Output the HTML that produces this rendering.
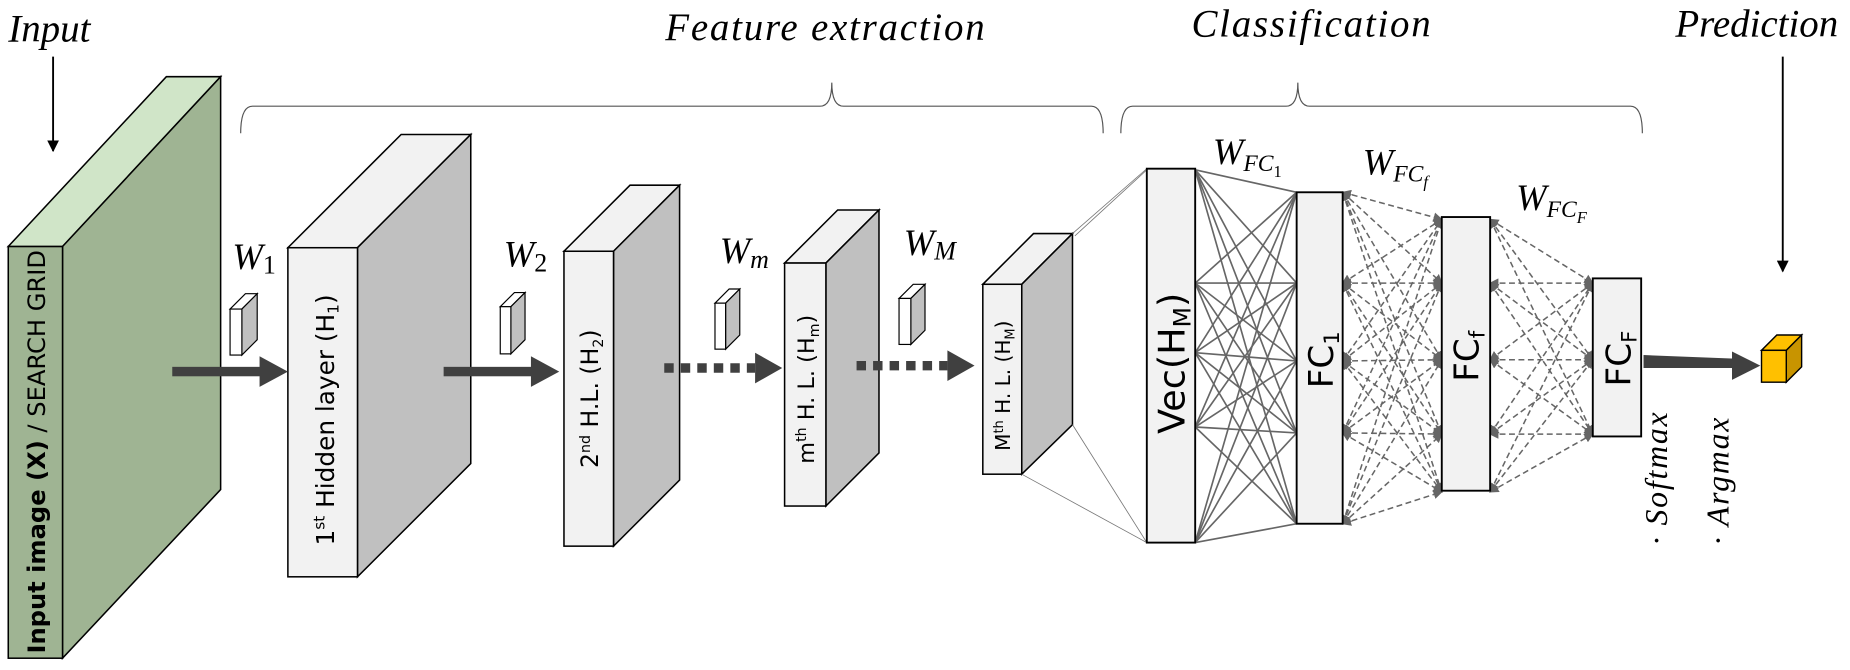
<!DOCTYPE html>
<html><head><meta charset="utf-8"><style>
html,body{margin:0;padding:0;background:#fff;}
svg{display:block;}
.it{font-family:"Liberation Serif",serif;font-style:italic;}
.sn{font-family:"DejaVu Sans","Liberation Sans",sans-serif;}
</style></head><body>
<svg width="1850" height="670" viewBox="0 0 1568 568" preserveAspectRatio="none" xmlns="http://www.w3.org/2000/svg">
<defs>
<marker id="ah" markerWidth="8" markerHeight="8" refX="7" refY="4" orient="auto-start-reverse" markerUnits="userSpaceOnUse"><path d="M0,0 L8,4 L0,8 z" fill="#666"/></marker>
<marker id="ab" markerWidth="10" markerHeight="10" refX="9" refY="5" orient="auto" markerUnits="userSpaceOnUse"><path d="M0,0 L10,5 L0,10 z" fill="#000"/></marker>
</defs>

<!-- titles -->
<text x="7" y="35" class="it" font-size="33">Input</text>
<text x="700" y="34" class="it" font-size="33" text-anchor="middle" letter-spacing="1.5">Feature extraction</text>
<text x="1112" y="31" class="it" font-size="33" text-anchor="middle" letter-spacing="1.5">Classification</text>
<text x="1489" y="31" class="it" font-size="33" text-anchor="middle">Prediction</text>
<line x1="45" y1="48" x2="45" y2="128" stroke="#000" stroke-width="1.6" marker-end="url(#ab)"/>
<line x1="1511" y1="48" x2="1511" y2="230" stroke="#000" stroke-width="1.6" marker-end="url(#ab)"/>

<!-- braces -->
<path d="M204,113 Q204,90 214,90 L695,90 Q705,90 705,70 Q705,90 715,90 L925,90 Q935,90 935,113" fill="none" stroke="#555" stroke-width="1"/>
<path d="M950,113 Q950,90 960,90 L1090,90 Q1100,90 1100,70 Q1100,90 1110,90 L1382,90 Q1392,90 1392,113" fill="none" stroke="#555" stroke-width="1"/>

<!-- input slab -->
<polygon points="7,209 53,209 187,65 141,65" fill="#d0e5c8" stroke="#000" stroke-width="1.3"/>
<polygon points="53,209 187,65 187,415 53,558" fill="#9fb493" stroke="#000" stroke-width="1.3"/>
<rect x="7" y="209" width="46" height="349" fill="#9fb493" stroke="#000" stroke-width="1.3"/>
<text transform="translate(38,383) rotate(-90)" text-anchor="middle" class="sn" font-size="20.5"><tspan font-weight="bold">Input image (X)</tspan> / SEARCH GRID</text>

<!-- H1 -->
<polygon points="244,210 303,210 399,114 340,114" fill="#f2f2f2" stroke="#000" stroke-width="1.3"/>
<polygon points="303,210 399,114 399,393 303,489" fill="#c0c0c0" stroke="#000" stroke-width="1.3"/>
<rect x="244" y="210" width="59" height="279" fill="#f2f2f2" stroke="#000" stroke-width="1.3"/>
<text transform="translate(283,356) rotate(-90)" text-anchor="middle" class="sn" font-size="21">1<tspan font-size="13" dy="-8">st</tspan><tspan dy="8"> Hidden layer (H</tspan><tspan font-size="13" dy="4">1</tspan><tspan dy="-4">)</tspan></text>

<!-- H2 -->
<polygon points="478,213 520,213 576,157 534,157" fill="#f2f2f2" stroke="#000" stroke-width="1.3"/>
<polygon points="520,213 576,157 576,407 520,463" fill="#c0c0c0" stroke="#000" stroke-width="1.3"/>
<rect x="478" y="213" width="42" height="250" fill="#f2f2f2" stroke="#000" stroke-width="1.3"/>
<text transform="translate(507,338) rotate(-90)" text-anchor="middle" class="sn" font-size="20">2<tspan font-size="12" dy="-7">nd</tspan><tspan dy="7"> H.L. (H</tspan><tspan font-size="12" dy="4">2</tspan><tspan dy="-4">)</tspan></text>

<!-- Hm -->
<polygon points="665,223 700,223 745,178 710,178" fill="#f2f2f2" stroke="#000" stroke-width="1.3"/>
<polygon points="700,223 745,178 745,384 700,429" fill="#c0c0c0" stroke="#000" stroke-width="1.3"/>
<rect x="665" y="223" width="35" height="206" fill="#f2f2f2" stroke="#000" stroke-width="1.3"/>
<text transform="translate(690,330) rotate(-90)" text-anchor="middle" class="sn" font-size="19">m<tspan font-size="12" dy="-7">th</tspan><tspan dy="7">  H. L. (H</tspan><tspan font-size="12" dy="4">m</tspan><tspan dy="-4">)</tspan></text>

<!-- HM -->
<polygon points="833,241 866,241 909,198 876,198" fill="#f2f2f2" stroke="#000" stroke-width="1.3"/>
<polygon points="866,241 909,198 909,360 866,402" fill="#c0c0c0" stroke="#000" stroke-width="1.3"/>
<rect x="833" y="241" width="33" height="161" fill="#f2f2f2" stroke="#000" stroke-width="1.3"/>
<text transform="translate(856,327) rotate(-90)" text-anchor="middle" class="sn" font-size="17">M<tspan font-size="11" dy="-6">th</tspan><tspan dy="6">  H. L. (H</tspan><tspan font-size="11" dy="4">M</tspan><tspan dy="-4">)</tspan></text>

<!-- weight cubes -->
<g stroke="#000" stroke-width="1">
<polygon points="195,262 205,262 218,249 208,249" fill="#fff"/><polygon points="205,262 218,249 218,288 205,301" fill="#c0c0c0"/><rect x="195" y="262" width="10" height="39" fill="#fff"/>
<polygon points="424,260 433,260 445,248 436,248" fill="#fff"/><polygon points="433,260 445,248 445,288 433,300" fill="#c0c0c0"/><rect x="424" y="260" width="9" height="40" fill="#fff"/>
<polygon points="606,257 615,257 627,245 618,245" fill="#fff"/><polygon points="615,257 627,245 627,284 615,296" fill="#c0c0c0"/><rect x="606" y="257" width="9" height="39" fill="#fff"/>
<polygon points="762,253 772,253 784,241 774,241" fill="#fff"/><polygon points="772,253 784,241 784,280 772,292" fill="#c0c0c0"/><rect x="762" y="253" width="10" height="39" fill="#fff"/>
</g>
<text x="197" y="228" class="it" font-size="31">W<tspan font-size="22" font-style="normal" dy="4">1</tspan></text>
<text x="427" y="226" class="it" font-size="31">W<tspan font-size="22" font-style="normal" dy="4">2</tspan></text>
<text x="610" y="223" class="it" font-size="31">W<tspan font-size="22" dy="4">m</tspan></text>
<text x="766" y="216" class="it" font-size="31">W<tspan font-size="22" dy="4">M</tspan></text>

<!-- arrows -->
<g fill="#404040">
<rect x="146" y="311" width="76" height="8"/><polygon points="220,302 244,315 220,328"/>
<rect x="376" y="311" width="76" height="8"/><polygon points="450,302 474,315 450,328"/>
<polygon points="640,299 663,312 640,325"/><polygon points="803,297 826,310 803,323"/>
</g>
<line x1="563" y1="312" x2="640" y2="312" stroke="#404040" stroke-width="8" stroke-dasharray="8,6"/>
<line x1="726" y1="310" x2="803" y2="310" stroke="#404040" stroke-width="8" stroke-dasharray="8,6"/>

<!-- HM to Vec lines -->
<g stroke="#777" stroke-width="0.7" fill="none">
<line x1="909" y1="198" x2="972" y2="143"/><line x1="911" y1="200" x2="972" y2="144"/>
<line x1="909" y1="360" x2="972" y2="460"/><line x1="866" y1="402" x2="972" y2="460"/>
</g>

<!-- solid Vec->FC1 -->
<g stroke="#666" stroke-width="1.4">
<line x1="1013" y1="144" x2="1099" y2="163"/><line x1="1013" y1="144" x2="1099" y2="240"/><line x1="1013" y1="144" x2="1099" y2="306"/><line x1="1013" y1="144" x2="1099" y2="367"/><line x1="1013" y1="144" x2="1099" y2="444"/>
<line x1="1013" y1="240" x2="1099" y2="163"/><line x1="1013" y1="240" x2="1099" y2="240"/><line x1="1013" y1="240" x2="1099" y2="306"/><line x1="1013" y1="240" x2="1099" y2="367"/><line x1="1013" y1="240" x2="1099" y2="444"/>
<line x1="1013" y1="299" x2="1099" y2="163"/><line x1="1013" y1="299" x2="1099" y2="240"/><line x1="1013" y1="299" x2="1099" y2="306"/><line x1="1013" y1="299" x2="1099" y2="367"/><line x1="1013" y1="299" x2="1099" y2="444"/>
<line x1="1013" y1="362" x2="1099" y2="163"/><line x1="1013" y1="362" x2="1099" y2="240"/><line x1="1013" y1="362" x2="1099" y2="306"/><line x1="1013" y1="362" x2="1099" y2="367"/><line x1="1013" y1="362" x2="1099" y2="444"/>
<line x1="1013" y1="460" x2="1099" y2="163"/><line x1="1013" y1="460" x2="1099" y2="240"/><line x1="1013" y1="460" x2="1099" y2="306"/><line x1="1013" y1="460" x2="1099" y2="367"/><line x1="1013" y1="460" x2="1099" y2="444"/>
</g>

<!-- dashed FC1->FCf -->
<g stroke="#666" stroke-width="1.3" stroke-dasharray="5,3" marker-end="url(#ah)" marker-start="url(#ah)">
<line x1="1138" y1="163" x2="1222" y2="186"/><line x1="1138" y1="163" x2="1222" y2="240"/><line x1="1138" y1="163" x2="1222" y2="305"/><line x1="1138" y1="163" x2="1222" y2="368"/><line x1="1138" y1="163" x2="1222" y2="417"/>
<line x1="1138" y1="240" x2="1222" y2="186"/><line x1="1138" y1="240" x2="1222" y2="240"/><line x1="1138" y1="240" x2="1222" y2="305"/><line x1="1138" y1="240" x2="1222" y2="368"/><line x1="1138" y1="240" x2="1222" y2="417"/>
<line x1="1138" y1="306" x2="1222" y2="186"/><line x1="1138" y1="306" x2="1222" y2="240"/><line x1="1138" y1="306" x2="1222" y2="305"/><line x1="1138" y1="306" x2="1222" y2="368"/><line x1="1138" y1="306" x2="1222" y2="417"/>
<line x1="1138" y1="367" x2="1222" y2="186"/><line x1="1138" y1="367" x2="1222" y2="240"/><line x1="1138" y1="367" x2="1222" y2="305"/><line x1="1138" y1="367" x2="1222" y2="368"/><line x1="1138" y1="367" x2="1222" y2="417"/>
<line x1="1138" y1="444" x2="1222" y2="186"/><line x1="1138" y1="444" x2="1222" y2="240"/><line x1="1138" y1="444" x2="1222" y2="305"/><line x1="1138" y1="444" x2="1222" y2="368"/><line x1="1138" y1="444" x2="1222" y2="417"/>
<!-- FCf->FCF -->
<line x1="1263" y1="186" x2="1350" y2="240"/><line x1="1263" y1="186" x2="1350" y2="305"/><line x1="1263" y1="186" x2="1350" y2="368"/>
<line x1="1263" y1="240" x2="1350" y2="240"/><line x1="1263" y1="240" x2="1350" y2="305"/><line x1="1263" y1="240" x2="1350" y2="368"/>
<line x1="1263" y1="305" x2="1350" y2="240"/><line x1="1263" y1="305" x2="1350" y2="305"/><line x1="1263" y1="305" x2="1350" y2="368"/>
<line x1="1263" y1="368" x2="1350" y2="240"/><line x1="1263" y1="368" x2="1350" y2="305"/><line x1="1263" y1="368" x2="1350" y2="368"/>
<line x1="1263" y1="417" x2="1350" y2="240"/><line x1="1263" y1="417" x2="1350" y2="305"/><line x1="1263" y1="417" x2="1350" y2="368"/>
</g>

<!-- FC boxes -->
<g fill="#f2f2f2" stroke="#000" stroke-width="1.6">
<rect x="972" y="143" width="41" height="317"/>
<rect x="1099" y="163" width="39" height="281"/>
<rect x="1222" y="184" width="41" height="232"/>
<rect x="1350" y="236" width="41" height="134"/>
</g>
<text transform="translate(1004,308) rotate(-90)" text-anchor="middle" class="sn" font-size="31">Vec(H<tspan font-size="20" dy="5">M</tspan><tspan dy="-5">)</tspan></text>
<text transform="translate(1130,305) rotate(-90)" text-anchor="middle" class="sn" font-size="29">FC<tspan font-size="18" dy="5">1</tspan></text>
<text transform="translate(1253,302) rotate(-90)" text-anchor="middle" class="sn" font-size="29">FC<tspan font-size="18" dy="5">f</tspan></text>
<text transform="translate(1382,304) rotate(-90)" text-anchor="middle" class="sn" font-size="29">FC<tspan font-size="18" dy="5">F</tspan></text>

<text x="1028" y="139" class="it" font-size="31">W<tspan font-size="20" dy="6">FC</tspan><tspan font-size="14" font-style="normal" dy="5">1</tspan></text>
<text x="1155" y="148" class="it" font-size="31">W<tspan font-size="20" dy="6">FC</tspan><tspan font-size="14" dy="5">f</tspan></text>
<text x="1285" y="178" class="it" font-size="31">W<tspan font-size="20" dy="6">FC</tspan><tspan font-size="14" dy="5">F</tspan></text>

<!-- output arrow -->
<polygon points="1393,301 1470,304 1470,312 1393,312" fill="#404040"/>
<polygon points="1468,298 1492,310 1468,322" fill="#404040"/>

<!-- cube -->
<g stroke="#000" stroke-width="1.2">
<polygon points="1493,297 1514,297 1527,284 1506,284" fill="#ffc000"/>
<polygon points="1514,297 1527,284 1527,311 1514,324" fill="#c89400"/>
<rect x="1493" y="297" width="21" height="27" fill="#ffc000"/>
</g>

<text transform="translate(1413,462) rotate(-90)" class="it" font-size="27" letter-spacing="1.5">· Softmax</text>
<text transform="translate(1465,462) rotate(-90)" class="it" font-size="27" letter-spacing="1.5">· Argmax</text>
</svg>
</body></html>
